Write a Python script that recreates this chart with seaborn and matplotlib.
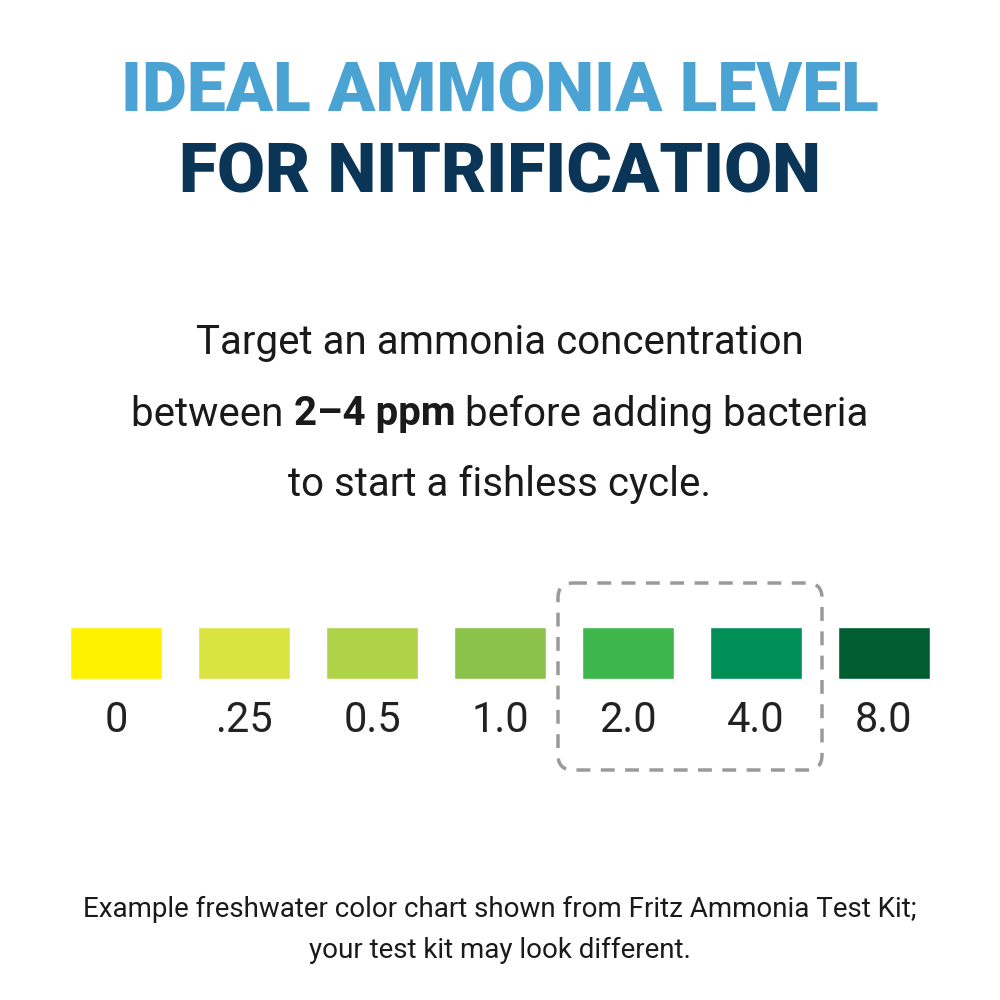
import matplotlib
matplotlib.use("Agg")
import matplotlib.pyplot as plt
import seaborn as sns
import pandas as pd
from matplotlib.patches import FancyBboxPatch

# ── Data ──────────────────────────────────────────────────────────────────────
levels = ["0", ".25", "0.5", "1.0", "2.0", "4.0", "8.0"]
swatch_colors = ["#FFF200", "#D9E342", "#AED349", "#8BC24A", "#3DB74B", "#008F57", "#005E33"]
swatch_height = [1, 1, 1, 1, 1, 1, 1]
target_levels = ["2.0", "4.0"]

sns.set_theme(style="white")
plt.rcParams["font.family"] = ["Roboto", "DejaVu Sans"]

fig = plt.figure(figsize=(10, 10), dpi=100)
fig.patch.set_facecolor("white")

# ── Headline ─────────────────────────────────────────────────────────────────
fig.text(0.5, 0.907, "IDEAL AMMONIA LEVEL", ha="center", va="center",
         fontsize=50, fontweight="black", color="#4AA3D3")
fig.text(0.5, 0.826, "FOR NITRIFICATION", ha="center", va="center",
         fontsize=50, fontweight="black", color="#0B3556")

body_kw = dict(va="center", fontsize=29, color="#1a1a1a")
fig.text(0.5, 0.657, "Target an ammonia concentration", ha="center", **body_kw)
fig.text(0.5, 0.515, "to start a fishless cycle.", ha="center", **body_kw)

# middle line mixes regular and bold: lay the pieces out side by side
pieces = [("between ", "normal"), ("2–4 ppm", "bold"), (" before adding bacteria", "normal")]
renderer = fig.canvas.get_renderer()
texts = [fig.text(0, 0.586, s, ha="left", fontweight=w, **body_kw) for s, w in pieces]
widths = [t.get_window_extent(renderer).width / 1000 for t in texts]
x = 0.5 - sum(widths) / 2
for t, w in zip(texts, widths):
    t.set_x(x)
    x += w

# ── Colour swatches ──────────────────────────────────────────────────────────
df = pd.DataFrame({"level": levels, "h": swatch_height})
ax = fig.add_axes([0.07, 1 - 0.679, 0.86, 0.052])
sns.barplot(data=df, x="level", y="h", hue="level", palette=swatch_colors,
            width=0.72, legend=False, ax=ax, saturation=1)
ax.set_xlim(-0.36, 6.36)
ax.set_ylim(0, 1)
ax.axis("off")
for i, lab in enumerate(levels):
    ax.text(i, -0.8, lab, ha="center", va="center", fontsize=30,
            color="#222222", transform=ax.get_xaxis_transform())

# dashed highlight box around the target range
i0, i1 = levels.index(target_levels[0]), levels.index(target_levels[-1])
over = fig.add_axes([0, 0, 1, 1])
over.set_xlim(0, 1000)
over.set_ylim(1000, 0)
over.axis("off")
x0 = 70 + i0 * 128 - 24
x1 = 70 + i1 * 128 + 92 + 20
box = FancyBboxPatch((x0 + 15, 583 + 15), x1 - x0 - 30, 770 - 583 - 30,
                     boxstyle="round,pad=15", fill=False, ec="#9a9a9a",
                     lw=2.5, ls=(0, (4, 3)))
over.add_patch(box)

fig.text(0.5, 0.091, "Example freshwater color chart shown from Fritz Ammonia Test Kit;",
         ha="center", va="center", fontsize=20, color="#1a1a1a")
fig.text(0.5, 0.050, "your test kit may look different.",
         ha="center", va="center", fontsize=20, color="#1a1a1a")

fig.savefig("out.png", dpi=100, facecolor="white")
